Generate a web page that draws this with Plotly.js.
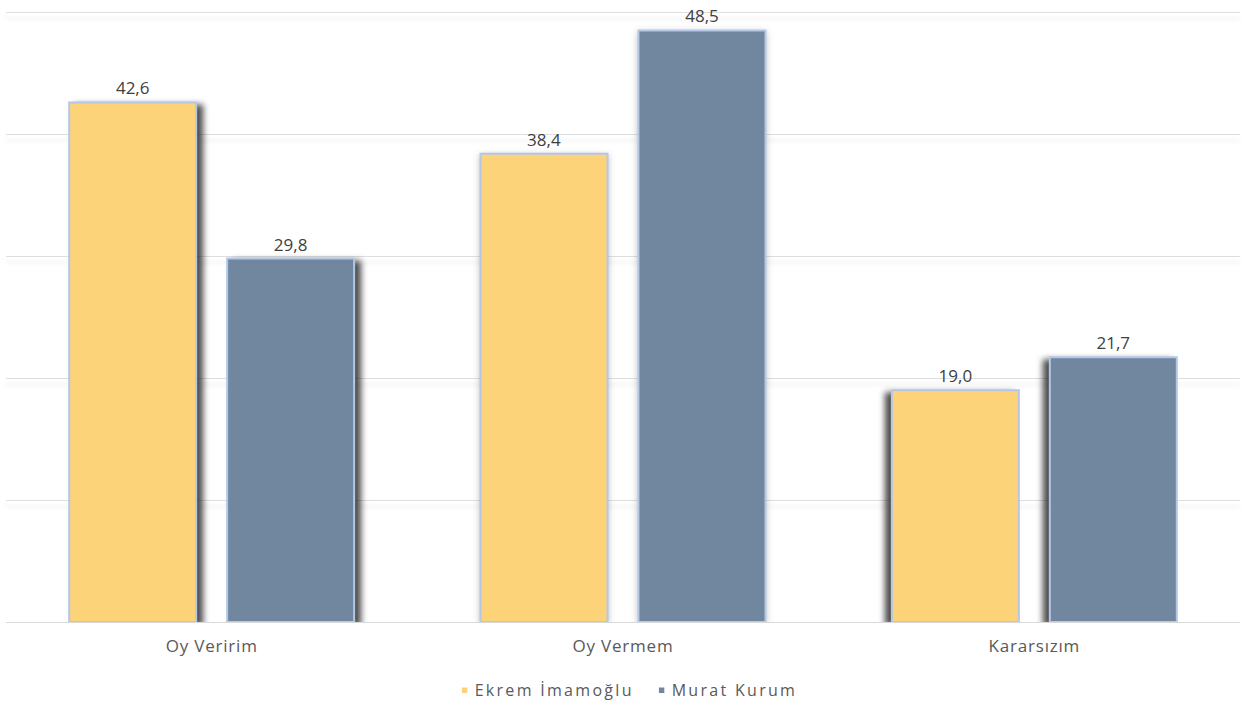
<!DOCTYPE html>
<html>
<head>
<meta charset="utf-8">
<script src="https://cdn.plot.ly/plotly-3.0.1.min.js"></script>
<style>
  html, body { margin:0; padding:0; background:#fff; }
  #chart { width:1248px; height:703px; }
  .xtick text { letter-spacing: 0.8px; }
  .legendtext { letter-spacing: 2.3px; }
</style>
</head>
<body>
<div id="chart"></div>
<script>
const categories = ["Oy Veririm", "Oy Vermem", "Kararsızım"];
const seriesNames = ["Ekrem İmamoğlu", "Murat Kurum"];
const imamogluValues = [42.6, 38.4, 19.0];
const kurumValues = [29.8, 48.5, 21.7];
const seriesColors = ["#fdd37a", "#71869f"];

function barTrace(name, values, color) {
  return {
    type: "bar",
    name: name,
    x: categories,
    y: values,
    marker: { color: color, line: { color: "#b4c7e7", width: 2 } },
    texttemplate: "%{y:.1f}",
    textposition: "outside",
    cliponaxis: false,
    textfont: { family: "Open Sans", size: 17, color: "#404040" },
    hoverinfo: "skip"
  };
}

const data = [
  barTrace(seriesNames[0], imamogluValues, seriesColors[0]),
  barTrace(seriesNames[1], kurumValues, seriesColors[1])
];

const layout = {
  width: 1248,
  height: 703,
  margin: { l: 6, r: 8, t: 0, b: 81, autoexpand: false },
  paper_bgcolor: "#ffffff",
  plot_bgcolor: "#ffffff",
  separators: ",.",
  barmode: "group",
  bargap: 0.232,
  bargroupgap: 0.196,
  font: { family: "Open Sans", color: "#595959" },
  xaxis: {
    type: "category",
    showline: true,
    linecolor: "#d9d9d9",
    linewidth: 1,
    ticks: "",
    showgrid: false,
    ticklabelstandoff: 9,
    tickfont: { family: "Open Sans", size: 17, color: "#595959" }
  },
  yaxis: {
    range: [0, 51],
    dtick: 10,
    showticklabels: false,
    gridcolor: "#dedede",
    gridwidth: 1,
    zeroline: false,
    showline: false
  },
  showlegend: true,
  legend: {
    orientation: "h",
    x: 0.507, xanchor: "center",
    yref: "container",
    y: 0.018, yanchor: "middle",
    entrywidth: 152,
    entrywidthmode: "pixels",
    font: { family: "Open Sans", size: 16, color: "#595959" },
    itemclick: false, itemdoubleclick: false
  }
};

Plotly.newPlot("chart", data, layout, { staticPlot: true }).then(() => {
  const shadows = [
    "drop-shadow(6px 3px 3px rgba(0,0,0,0.7))",
    "drop-shadow(0px 2px 3px rgba(0,0,0,0.25))",
    "drop-shadow(-6px 3px 3px rgba(0,0,0,0.7))"
  ];
  document.querySelectorAll(".trace.bars").forEach(tr => {
    tr.querySelectorAll(".point").forEach((pt, i) => {
      const p = pt.querySelector("path");
      if (p) p.style.filter = shadows[i % 3];
    });
  });
  document.querySelectorAll(".gridlayer path").forEach(p => {
    p.style.filter = "drop-shadow(0px 6px 2px rgba(0,0,0,0.12))";
  });
  document.querySelectorAll(".legendpoints path").forEach(p => {
    p.setAttribute("transform", "translate(30,0) scale(0.45)");
    p.style.strokeWidth = "0";
  });
});
</script>
</body>
</html>
